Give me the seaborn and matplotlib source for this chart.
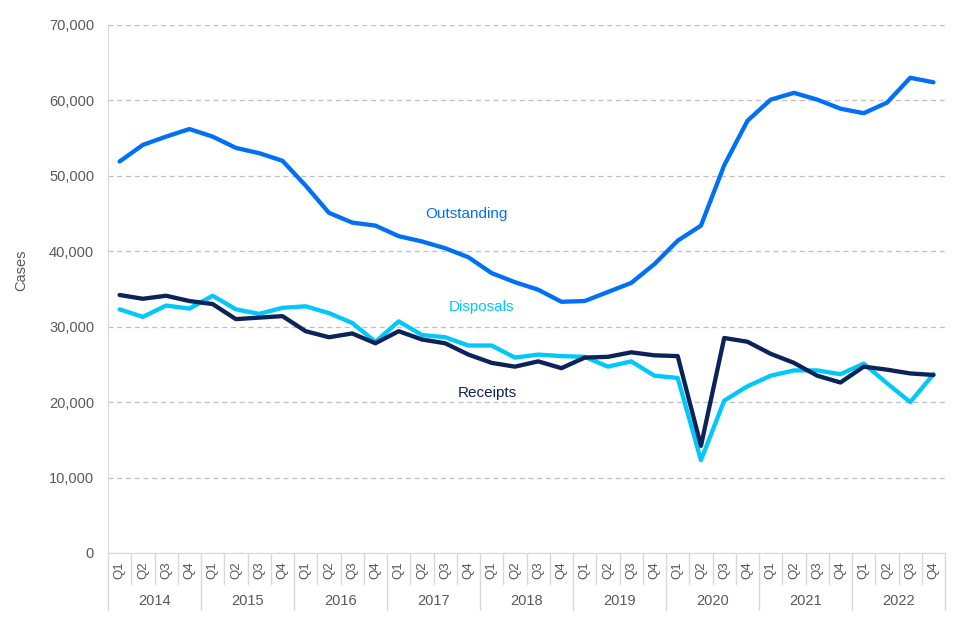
import numpy as np
import pandas as pd
import matplotlib
matplotlib.use("Agg")
import matplotlib.pyplot as plt
import matplotlib.transforms as mtransforms
import seaborn as sns

years = ["2014", "2015", "2016", "2017", "2018", "2019", "2020", "2021", "2022"]
quarters = ["Q1", "Q2", "Q3", "Q4"]

outstanding = [51900, 54100, 55200, 56200, 55200, 53700, 53000, 52000,
               48700, 45100, 43800, 43400, 42000, 41300, 40400, 39200,
               37100, 35900, 34900, 33300, 33400, 34600, 35800, 38300,
               41400, 43400, 51400, 57300, 60100, 61000, 60100, 58900,
               58300, 59700, 63000, 62400]
receipts = [34200, 33700, 34100, 33400, 33000, 31000, 31200, 31400,
            29400, 28600, 29100, 27800, 29400, 28300, 27800, 26300,
            25200, 24700, 25400, 24500, 25900, 26000, 26600, 26200,
            26100, 14200, 28500, 28000, 26400, 25200, 23500, 22600,
            24700, 24300, 23800, 23600]
disposals = [32300, 31300, 32800, 32400, 34100, 32300, 31700, 32500,
             32700, 31800, 30500, 28000, 30700, 28900, 28600, 27500,
             27500, 25900, 26300, 26100, 26000, 24700, 25400, 23500,
             23200, 12300, 20200, 22100, 23500, 24200, 24200, 23700,
             25100, 22500, 20000, 23700]

series_names = ["Outstanding", "Disposals", "Receipts"]
colors = {"Outstanding": "#0070F6", "Disposals": "#00C8FA", "Receipts": "#0B2358"}

labels = [f"{y} {q}" for y in years for q in quarters]
df = pd.DataFrame({
    "pos": np.arange(len(labels)),
    "Outstanding": outstanding,
    "Disposals": disposals,
    "Receipts": receipts,
})
long = df.melt(id_vars="pos", var_name="series", value_name="cases")

sns.set_style("white")
plt.rcParams["font.family"] = ["Liberation Sans", "DejaVu Sans"]

fig = plt.figure(figsize=(9.6, 6.4), dpi=100)
ax = fig.add_axes([0.1125, 0.136, 0.872, 0.825])

sns.lineplot(data=long, x="pos", y="cases", hue="series", hue_order=series_names,
             palette=colors, linewidth=3.1, legend=False, ax=ax)

ax.set_xlim(-0.5, len(labels) - 0.5)
ax.set_ylim(0, 70000)
ax.set_yticks(np.arange(0, 70001, 10000))
ax.set_yticklabels([f"{v:,}" for v in range(0, 70001, 10000)], color="#595959", fontsize=10.5)
ax.yaxis.grid(True, linestyle=(0, (4, 3)), color="#BFBFBF", linewidth=0.9)
ax.set_axisbelow(True)
ax.tick_params(axis="y", length=0, pad=10)
ax.set_ylabel("Cases", color="#595959", fontsize=10.5)
ax.yaxis.set_label_coords(-0.095, 0.536)

for s in ["top", "right"]:
    ax.spines[s].set_visible(False)
ax.spines["left"].set_color("#D9D9D9")
ax.spines["bottom"].set_color("#D9D9D9")

# quarter tick labels
ax.set_xticks(np.arange(len(labels)))
ax.set_xticklabels([q for y in years for q in quarters], rotation=90,
                   color="#595959", fontsize=9.5)
ax.tick_params(axis="x", length=0, pad=6)
ax.set_xlabel("")

# category separators and year labels below the axis
trans = mtransforms.blended_transform_factory(ax.transData, ax.transAxes)
for i in range(len(labels) + 1):
    x = i - 0.5
    low = -0.108 if i % 4 == 0 else -0.058
    ax.plot([x, x], [0, low], transform=trans, color="#D9D9D9", linewidth=1.0, clip_on=False)
for j, y in enumerate(years):
    ax.text(j * 4 + 1.5, -0.091, y, transform=trans, ha="center", va="center",
            color="#595959", fontsize=10.5)

# series labels
ax.text(14.9, 45000, "Outstanding", color=colors["Outstanding"], fontsize=11, ha="center", va="center")
ax.text(15.55, 32650, "Disposals", color=colors["Disposals"], fontsize=11, ha="center", va="center")
ax.text(15.8, 21200, "Receipts", color=colors["Receipts"], fontsize=11, ha="center", va="center")

fig.savefig("out.png", dpi=100)
